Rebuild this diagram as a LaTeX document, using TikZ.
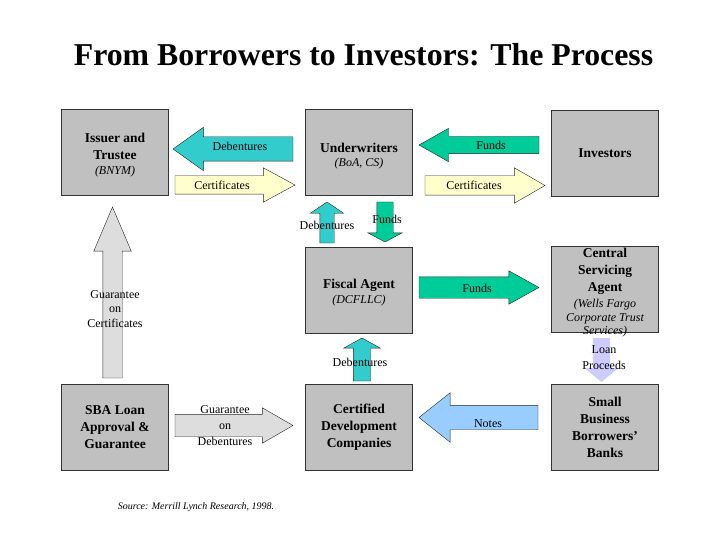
\documentclass[tikz,border=0pt]{standalone}
\usepackage{fontspec}
\setmainfont{Liberation Serif}
\usetikzlibrary{shapes.arrows}
\definecolor{boxgray}{HTML}{C0C0C0}
\definecolor{debcyan}{HTML}{33CCCC}
\definecolor{fundgreen}{HTML}{00CC99}
\definecolor{certyellow}{HTML}{FFFFCC}
\definecolor{notesblue}{HTML}{99CCFF}
\definecolor{loanlav}{HTML}{CCCCFF}
\definecolor{guargray}{HTML}{DDDDDD}
\begin{document}
\begin{tikzpicture}[x=1pt,y=-1pt,every node/.style={inner sep=1pt}]
\tikzstyle{box}=[draw=black!80,fill=boxgray,minimum width=107pt,minimum height=86pt,align=center,font=\fontsize{13.5}{17}\selectfont\bfseries]
\tikzstyle{boxtext}=[align=center,font=\fontsize{13.5}{17}\selectfont\bfseries]
\tikzstyle{blk}=[single arrow,draw=black!85,outer sep=0pt,single arrow head indent=0pt,anchor=tail]
\tikzstyle{lbl}=[align=center,font=\fontsize{12}{15}\selectfont]
\newcommand{\sub}[1]{{\fontsize{12}{14}\selectfont\mdseries\itshape #1}}
\useasboundingbox (0,0) rectangle (720,540);

\node[font=\fontsize{31.8}{36}\selectfont\bfseries](title) at (363.5,55){From Borrowers to Investors: The Process};

% boxes
\node[box](issuer) at (115,152){};
\node[boxtext](issuertext) at (115,155.5){Issuer and\\Trustee\\[-2pt]\sub{(BNYM)}};
\node[box](under) at (359,152){};
\node[boxtext](undertext) at (359,156.5){Underwriters\\[-3pt]\sub{(BoA, CS)}};
\node[box](invest) at (605,153){Investors};
\node[box](fiscal) at (359,290){};
\node[boxtext](fiscaltext) at (359,293){Fiscal Agent\\[-2pt]\sub{(DCFLLC)}};
\node[box](central) at (605,289){};
\node[boxtext](centraltext) at (605,292.5){Central\\Servicing\\Agent\\[-1pt]\sub{(Wells Fargo}\\[-3pt]\sub{Corporate Trust}\\[-4pt]\sub{Services)}};
\node[box](sba) at (115,427){SBA Loan\\Approval \&\\Guarantee};
\node[box](cdc) at (359,427){Certified\\Development\\Companies};
\node[box](small) at (605,427){Small\\Business\\Borrowers'\\Banks};

% block arrows
\node[blk,fill=debcyan,inner sep=12pt,minimum height=120pt,minimum width=43pt,single arrow head extend=9.5pt,single arrow tip angle=71,shape border rotate=180](debA) at (293,149){};
\node[blk,fill=certyellow,inner sep=9pt,minimum height=120pt,minimum width=34pt,single arrow head extend=8pt,single arrow tip angle=57,shape border rotate=0](certA) at (175,185){};
\node[blk,fill=fundgreen,inner sep=8.5pt,minimum height=120pt,minimum width=33pt,single arrow head extend=8pt,single arrow tip angle=59,shape border rotate=180](fundsA) at (539,145){};
\node[blk,fill=certyellow,inner sep=9.5pt,minimum height=120pt,minimum width=35pt,single arrow head extend=8pt,single arrow tip angle=60,shape border rotate=0](certB) at (425,185.5){};
\node[blk,fill=debcyan,inner sep=7pt,minimum height=41pt,minimum width=33pt,single arrow head extend=9.5pt,single arrow tip angle=112,shape border rotate=90](debB) at (327,243){};
\node[blk,fill=fundgreen,inner sep=8pt,minimum height=40pt,minimum width=34pt,single arrow head extend=9pt,single arrow tip angle=124,shape border rotate=270](fundsB) at (385,202){};
\node[blk,fill=guargray,inner sep=9.5pt,minimum height=171pt,minimum width=37pt,single arrow head extend=9pt,single arrow tip angle=46,shape border rotate=90](guarC) at (112.5,378){};
\node[blk,fill=fundgreen,inner sep=10.5pt,minimum height=120pt,minimum width=33pt,single arrow head extend=6pt,single arrow tip angle=58,shape border rotate=0](fundsC) at (419,287.5){};
\node[blk,fill=debcyan,inner sep=8.5pt,minimum height=43pt,minimum width=36pt,single arrow head extend=9.5pt,single arrow tip angle=122,shape border rotate=90](debC) at (362,381){};
\node[blk,draw=none,fill=loanlav,inner sep=8.5pt,minimum height=44pt,minimum width=34pt,single arrow head extend=8.5pt,single arrow tip angle=101,shape border rotate=270](loanA) at (601.5,338){};
\node[blk,fill=guargray,inner sep=11pt,minimum height=118pt,minimum width=35pt,single arrow head extend=6.5pt,single arrow tip angle=60,shape border rotate=0](guarD) at (175,425.5){};
\node[blk,fill=notesblue,inner sep=12pt,minimum height=119pt,minimum width=49pt,single arrow head extend=12.5pt,single arrow tip angle=77,shape border rotate=180](notesA) at (538,417.5){};

% arrow labels
\node[lbl](lDebA) at (240,146){Debentures};
\node[lbl](lCertA) at (222,185){Certificates};
\node[lbl](lFundsA) at (491,145){Funds};
\node[lbl](lCertB) at (474,185){Certificates};
\node[lbl](lDebB) at (327,225){Debentures};
\node[lbl](lFundsB) at (387,219){Funds};
\node[lbl,font=\fontsize{12}{14.5}\selectfont](lGuarC) at (115,309){Guarantee\\on\\Certificates};
\node[lbl](lFundsC) at (477,288){Funds};
\node[lbl](lDebC) at (360,362){Debentures};
\node[lbl,font=\fontsize{12}{16}\selectfont](lLoan) at (604,358){Loan\\Proceeds};
\node[lbl,font=\fontsize{12}{16}\selectfont](lGuarD) at (225,426){Guarantee\\on\\Debentures};
\node[lbl](lNotes) at (488,424){Notes};

\node[font=\fontsize{10}{12}\selectfont\itshape](source) at (196,507){Source: Merrill Lynch Research, 1998.};
\end{tikzpicture}
\end{document}
